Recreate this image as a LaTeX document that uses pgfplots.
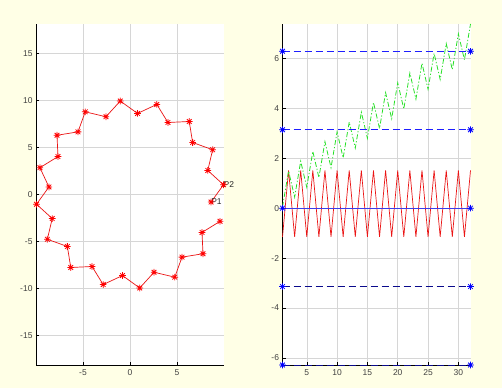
\documentclass[border=0pt]{standalone}
\usepackage{fontspec}
\setmainfont{Liberation Sans}
\usepackage{pgfplots}
\pgfplotsset{compat=1.18}
\definecolor{bgy}{RGB}{255,255,230}
\definecolor{mred}{RGB}{235,20,20}
\definecolor{mgreen}{RGB}{40,225,40}
\definecolor{mblue}{RGB}{60,60,235}
\definecolor{dashtop}{RGB}{30,30,255}
\definecolor{dashbot}{RGB}{10,10,140}
\definecolor{mstarblue}{RGB}{0,0,255}
\pgfdeclareplotmark{mstar}{%
 \pgfpathmoveto{\pgfqpoint{-\pgfplotmarksize}{0pt}}\pgfpathlineto{\pgfqpoint{\pgfplotmarksize}{0pt}}%
 \pgfpathmoveto{\pgfqpoint{0pt}{-\pgfplotmarksize}}\pgfpathlineto{\pgfqpoint{0pt}{\pgfplotmarksize}}%
 \pgfpathmoveto{\pgfqpoint{-0.707\pgfplotmarksize}{-0.707\pgfplotmarksize}}\pgfpathlineto{\pgfqpoint{0.707\pgfplotmarksize}{0.707\pgfplotmarksize}}%
 \pgfpathmoveto{\pgfqpoint{-0.707\pgfplotmarksize}{0.707\pgfplotmarksize}}\pgfpathlineto{\pgfqpoint{0.707\pgfplotmarksize}{-0.707\pgfplotmarksize}}%
 \pgfusepathqstroke}
\pgfplotsset{
 mstyle/.style={
  scale only axis, width=188bp, height=341bp,
  axis background/.style={fill=white},
  axis x line*=bottom, axis y line*=left,
  axis line style={black, line width=0.6pt},
  grid=major, grid style={black!16, line width=0.5pt},
  tick align=inside, major tick length=3bp,
  tick style={black, line width=0.5pt},
  ticklabel style={font=\fontsize{8.5}{10}\selectfont, text=black!75},
  /pgf/number format/assume math mode=true,
  xticklabel style={yshift=-1bp},
  clip=false,
 },
 bmark/.style={mark=mstar, mark size=3.3bp, mark options={solid, line width=0.8pt, color=mstarblue}},
}
\begin{document}
\begin{tikzpicture}
\fill[bgy] (0,0) rectangle (502bp,388bp);
\useasboundingbox (0,0) rectangle (502bp,388bp);
\begin{axis}[mstyle, at={(36bp,23bp)}, anchor=south west,
  xmin=-10, xmax=10, ymin=-18.14, ymax=18.14,
  xtick={-5,0,5}, ytick={-15,-10,-5,0,5,10,15}]
\addplot[color=mred, line width=0.7pt, mark=mstar, mark size=3.3bp, mark options={solid, line width=0.8pt, color=red}] coordinates {
(8.623,-0.802) (9.946,1.034) (8.273,2.559) (8.794,4.762) (6.664,5.531) (6.302,7.764)
(4.035,7.663) (2.852,9.585) (0.802,8.623) (-1.034,9.946) (-2.559,8.273) (-4.762,8.794)
(-5.531,6.664) (-7.764,6.302) (-7.663,4.035) (-9.585,2.852) (-8.623,0.802) (-9.946,-1.034)
(-8.273,-2.559) (-8.794,-4.762) (-6.664,-5.531) (-6.302,-7.764) (-4.035,-7.663) (-2.852,-9.585)
(-0.802,-8.623) (1.034,-9.946) (2.559,-8.273) (4.762,-8.794) (5.531,-6.664) (7.764,-6.302)
(7.663,-4.035) (9.585,-2.852)};
\node[anchor=west, inner sep=0pt, font=\fontsize{8.5}{10}\selectfont, text=black!85] at (axis cs:9.946,1.034) {P2};
\node[anchor=west, inner sep=0pt, font=\fontsize{8.5}{10}\selectfont, text=black!85] at (axis cs:8.623,-0.802) {P1};
\end{axis}
\begin{axis}[mstyle, at={(282.5bp,23bp)}, anchor=south west,
  xmin=1, xmax=32, ymin=-6.2832, ymax=7.377,
  xtick={5,10,15,20,25,30}, ytick={-6,-4,-2,0,2,4,6}]
\addplot[color=mred, line width=0.7pt] coordinates {
(1,-1.15) (2,1.51) (3,-1.15) (4,1.51) (5,-1.15) (6,1.51) (7,-1.15) (8,1.51)
(9,-1.15) (10,1.51) (11,-1.15) (12,1.51) (13,-1.15) (14,1.51) (15,-1.15) (16,1.51)
(17,-1.15) (18,1.51) (19,-1.15) (20,1.51) (21,-1.15) (22,1.51) (23,-1.15) (24,1.51)
(25,-1.15) (26,1.51) (27,-1.15) (28,1.51) (29,-1.15) (30,1.51) (31,-1.15) (32,1.51)};
\addplot[color=mgreen, line width=0.8pt, dash pattern=on 5bp off 2bp on 1.2bp off 2bp] coordinates {
(1,0.050) (2,1.486) (3,0.443) (4,1.879) (5,0.835) (6,2.272) (7,1.228) (8,2.664)
(9,1.621) (10,3.057) (11,2.013) (12,3.450) (13,2.406) (14,3.843) (15,2.799) (16,4.235)
(17,3.192) (18,4.628) (19,3.584) (20,5.021) (21,3.977) (22,5.413) (23,4.370) (24,5.806)
(25,4.762) (26,6.199) (27,5.155) (28,6.591) (29,5.548) (30,6.984) (31,5.940) (32,7.377)};
\addplot[color=mblue, line width=1.2pt, bmark] coordinates {(1,0) (32,0)};
\addplot[color=dashtop, line width=1.1pt, dash pattern=on 7bp off 4bp, bmark] coordinates {(1,3.1416) (32,3.1416)};
\addplot[color=dashtop, line width=1.1pt, dash pattern=on 7bp off 4bp, bmark] coordinates {(1,6.2832) (32,6.2832)};
\addplot[color=dashbot, line width=1.0pt, dash pattern=on 7bp off 4bp, bmark] coordinates {(1,-3.1416) (32,-3.1416)};
\addplot[color=dashbot, line width=1.0pt, dash pattern=on 7bp off 4bp, bmark] coordinates {(1,-6.2832) (32,-6.2832)};
\end{axis}
\end{tikzpicture}
\end{document}
